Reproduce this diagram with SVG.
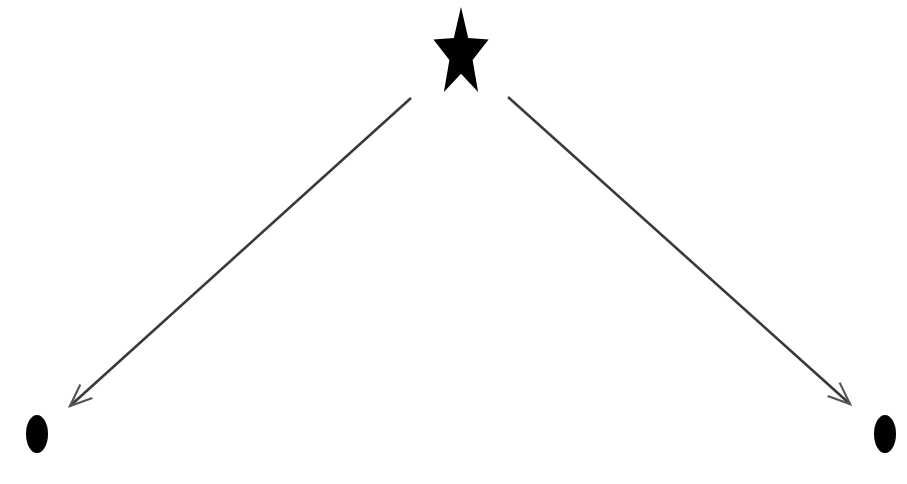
<svg xmlns="http://www.w3.org/2000/svg" width="907" height="484" viewBox="0 0 907 484">
<defs>
<marker id="arr" markerUnits="userSpaceOnUse" markerWidth="30" markerHeight="30" refX="24" refY="12" orient="auto" viewBox="0 0 30 24">
<path d="M2,3 L24,12 L2,21" fill="none" stroke="#555" stroke-width="2.2"/>
</marker>
</defs>
<style>
.edge{stroke:#3a3a3a;stroke-width:2.6;fill:none}
.node{fill:#000}
</style>
<rect width="907" height="484" fill="#fff"/>
<g id="connectors">
<line class="edge" x1="411" y1="98" x2="70" y2="406" marker-end="url(#arr)"/>
<line class="edge" x1="508" y1="97" x2="850" y2="404" marker-end="url(#arr)"/>
</g>
<g id="star">
<polygon class="node" points="461,7 468.2,38.1 488.6,39.5 472.6,60.1 478.1,92 461,73.7 443.9,92 449.4,60.1 433.4,39.5 453.8,38.1"/>
</g>
<g id="left">
<ellipse class="node" cx="37" cy="434" rx="11" ry="19"/>
</g>
<g id="right">
<ellipse class="node" cx="885" cy="434" rx="11" ry="19"/>
</g>
</svg>
